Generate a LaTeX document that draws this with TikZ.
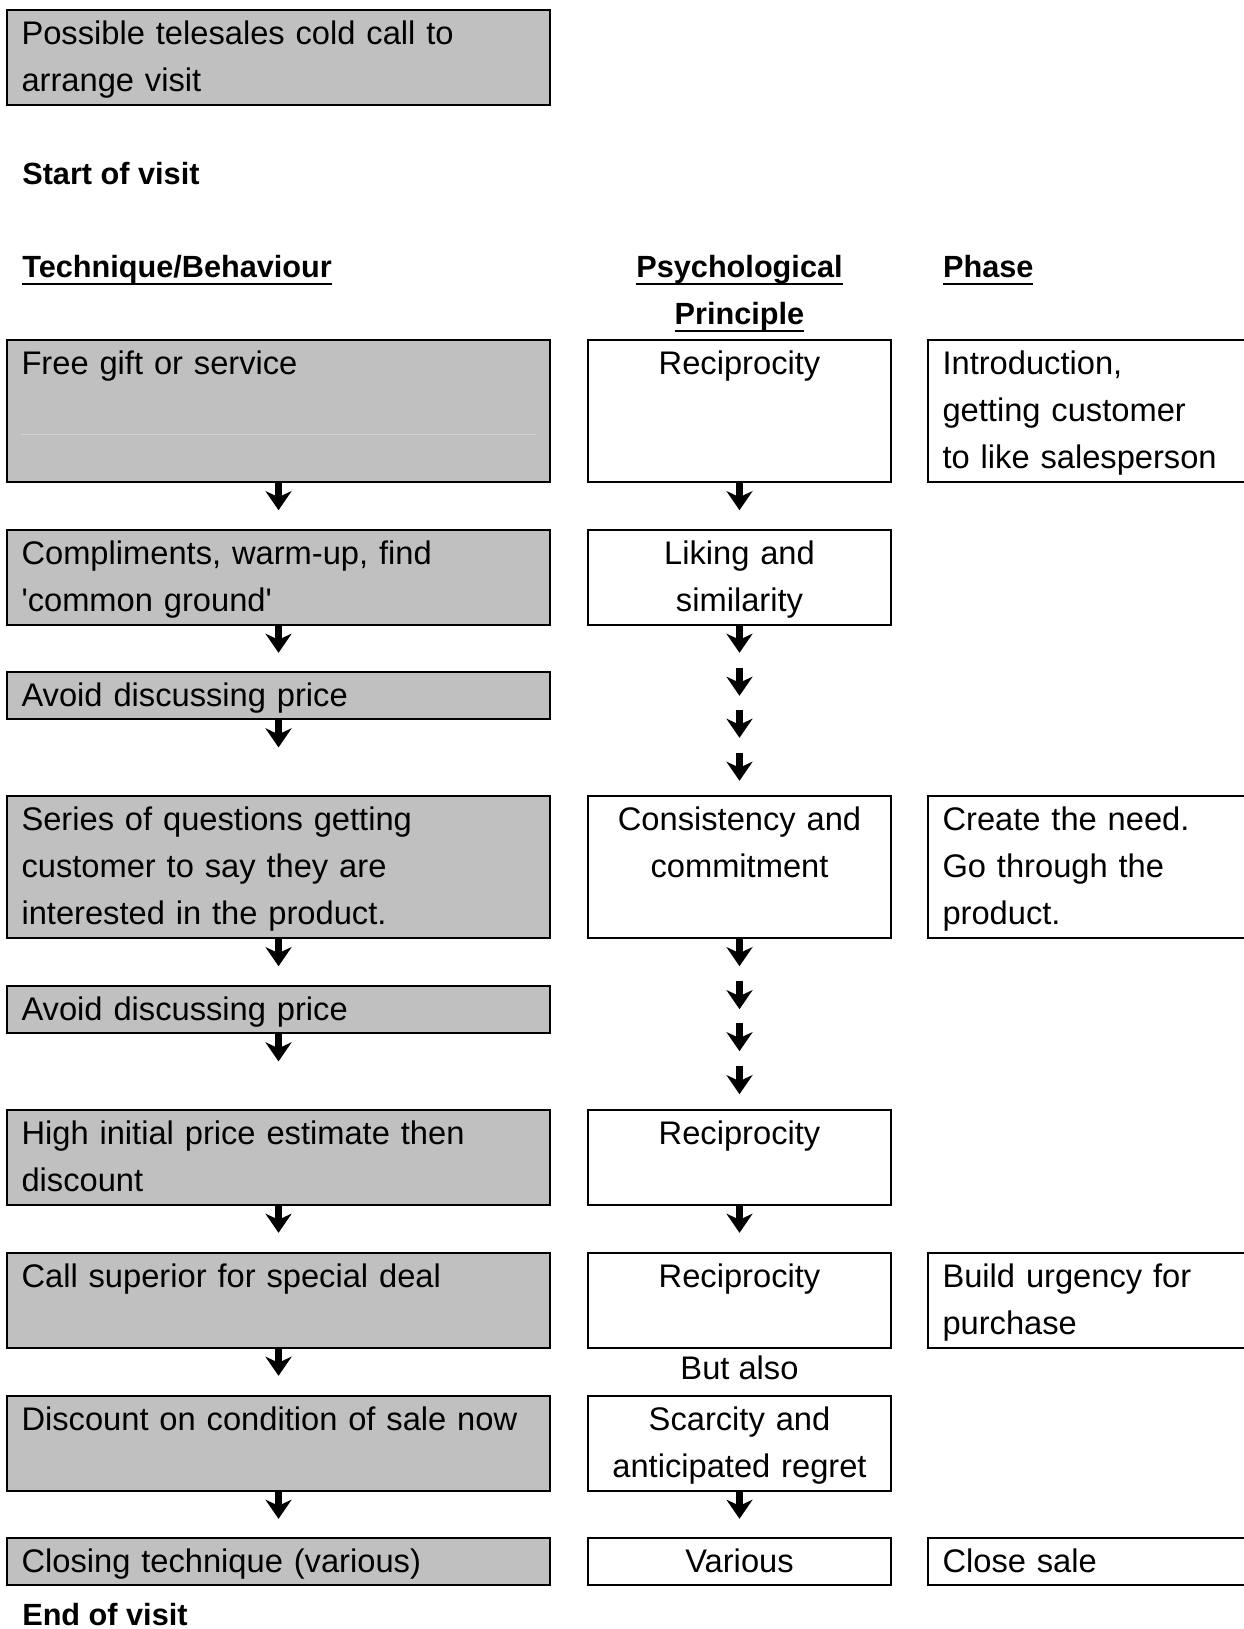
\documentclass[tikz,border=0pt]{standalone}
\usepackage{fontspec}
\setmainfont{Liberation Sans}
\usetikzlibrary{arrows.meta}
\definecolor{boxgray}{HTML}{C0C0C0}
\definecolor{faintgray}{HTML}{D4D4D4}
\newsavebox{\hdbox}
\newcommand{\hdul}[1]{\sbox{\hdbox}{#1}\rlap{\rule[-5.6pt]{\wd\hdbox}{1.5pt}}\usebox{\hdbox}}

\tikzset{every picture/.style={line width=0.75pt}}
\tikzset{
  txt/.style={font=\fontsize{24.5pt}{35.55pt}\selectfont},
  head/.style={inner sep=0pt, font=\fontsize{23pt}{35.55pt}\selectfont\bfseries},
  lbl/.style={inner sep=0pt, txt},
  tech/.style={draw, fill=boxgray, line width=1.5pt, outer sep=0pt, anchor=north west,
    inner xsep=10.9pt, inner ysep=0pt, text width=385.5pt, align=left, text height=25.5pt, txt},
  princ/.style={draw, fill=white, line width=1.5pt, outer sep=0pt, anchor=north west,
    inner xsep=3.75pt, inner ysep=0pt, text width=219.75pt, align=center, text height=25.5pt, txt},
  phase/.style={draw, fill=white, line width=1.5pt, outer sep=0pt, anchor=north west,
    inner xsep=10.9pt, inner ysep=0pt, text width=227.25pt, align=left, text height=25.5pt, txt},
  rowone/.style={text depth=10.05pt},
  rowtwo/.style={text depth=45.6pt},
  rowthree/.style={text depth=81.15pt},
  flow/.style={line width=4.9pt, -{Stealth[length=14.3pt,width=19.5pt,inset=4.5pt]}},
  faintline/.style={draw=faintgray, line width=0.75pt}
}

\begin{document}
\begin{tikzpicture}[x=0.75pt,y=0.75pt,yscale=-1,xscale=1]
    \useasboundingbox (0,0) rectangle (1244,1629);
    \clip (0,0) rectangle (1244,1629);
    % Before the visit
    \node[tech, rowtwo] (t0) at (7,10.4) {Possible telesales cold call to\\arrange visit};
    \node[head, anchor=base west] (start) at (21.8,184) {Start of visit};
    % Column headers
    \node[head, anchor=base west] (hcol1) at (21.8,277.5) {\hdul{Technique/Behaviour}};
    \node[head, anchor=base] (hcol2) at (739.5,277.5) {\hdul{Psychological}};
    \node[head, anchor=base] (hcol2b) at (739.5,324.5) {\hdul{Principle}};
    \node[head, anchor=base west] (hcol3) at (942.6,277.5) {\hdul{Phase}};
    % Row 1
    \node[tech, rowthree] (t1) at (7,340) {Free gift or service};
    \draw[faintline] (21,434) -- (536,434);
    \node[princ, rowthree] (m1) at (588,340) {Reciprocity};
    \node[phase, rowthree] (r1) at (928,340) {Introduction,\\getting customer\\to like salesperson};
    % Row 2
    \node[tech, rowtwo] (t2) at (7,530) {Compliments, warm-up, find\\\textquotesingle common ground\textquotesingle};
    \node[princ, rowtwo] (m2) at (588,530) {Liking and\\similarity};
    % Row 3
    \node[tech, rowone] (t3) at (7,672) {Avoid discussing price};
    % Row 4
    \node[tech, rowthree] (t4) at (7,796) {Series of questions getting\\customer to say they are\\interested in the product.};
    \node[princ, rowthree] (m4) at (588,796) {Consistency and\\commitment};
    \node[phase, rowthree] (r4) at (928,796) {Create the need.\\Go through the\\product.};
    % Row 5
    \node[tech, rowone] (t5) at (7,986) {Avoid discussing price};
    % Row 6
    \node[tech, rowtwo] (t6) at (7,1110) {High initial price estimate then\\discount};
    \node[princ, rowtwo] (m6) at (588,1110) {Reciprocity};
    % Row 7
    \node[tech, rowtwo] (t7) at (7,1253) {Call superior for special deal};
    \node[princ, rowtwo] (m7) at (588,1253) {Reciprocity};
    \node[phase, rowtwo] (r7) at (928,1253) {Build urgency for\\purchase};
    \node[lbl, anchor=base] (also) at (739.5,1379) {But also};
    % Row 8
    \node[tech, rowtwo] (t8) at (7,1396) {Discount on condition of sale now};
    \node[princ, rowtwo] (m8) at (588,1396) {Scarcity and\\anticipated regret};
    % Row 9
    \node[tech, rowone] (t9) at (7,1538) {Closing technique (various)};
    \node[princ, rowone] (m9) at (588,1538) {Various};
    \node[phase, rowone] (r9) at (928,1538) {Close sale};
    \node[head, anchor=base west] (end) at (21.8,1625) {End of visit};
    % Arrows
    \foreach \n in {t1,t2,t3,t4,t5,t6,t7,t8,m1,m2,m4,m6,m8}
      \draw[flow] (\n.south) -- ++(0,28);
    \foreach \d in {43,85,128} {
      \draw[flow] (m2.south) ++(0,\d) -- ++(0,28);
      \draw[flow] (m4.south) ++(0,\d) -- ++(0,28);
    }
\end{tikzpicture}
\end{document}
